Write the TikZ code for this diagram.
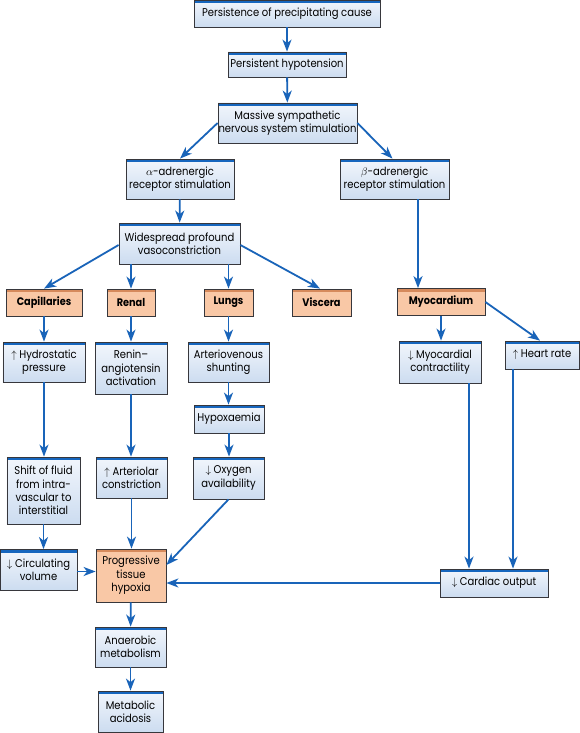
\documentclass[tikz,border=0pt]{standalone}
\usepackage{fontspec}
\setmainfont{Poppins}[FakeStretch=0.89]
\usetikzlibrary{arrows.meta,calc}
\definecolor{lineblue}{RGB}{25,100,185}
\definecolor{barblue}{RGB}{22,102,190}
\definecolor{boxtop}{RGB}{242,246,252}
\definecolor{boxbot}{RGB}{204,220,240}
\definecolor{orfill}{RGB}{249,200,166}
\definecolor{orbar}{RGB}{214,138,92}
\definecolor{bordergray}{RGB}{55,55,60}
\tikzset{
  base/.style 2 args={draw=bordergray, line width=0.8bp, minimum width=#1bp, minimum height=#2bp,
    inner sep=0.5bp, align=center, font=\fontsize{11.3}{13.5}\selectfont},
  bx/.style 2 args={base={#1}{#2}, top color=boxtop, bottom color=boxbot,
    path picture={\fill[barblue] (path picture bounding box.north west) rectangle ([yshift=-3.2bp]path picture bounding box.north east);}},
  obar/.style={fill=orfill,
    path picture={\fill[orbar] (path picture bounding box.north west) rectangle ([yshift=-3bp]path picture bounding box.north east);}},
  ox/.style 2 args={base={#1}{#2}, obar, font=\fontsize{11}{13}\selectfont\bfseries},
  arr/.style={draw=lineblue, line width=1.8bp, -{Stealth[length=12bp,width=9bp,inset=3.5bp]}}
}
\begin{document}
\begin{tikzpicture}[x=1bp,y=-1bp]
\useasboundingbox (0,0) rectangle (580,733);
\fill[white] (0,0) rectangle (580,733);
% nodes
\node[bx={186}{27}] (cause) at (287,13.5) {Persistence of precipitating cause};
\node[bx={118}{25}] (hypo) at (287,64.5) {Persistent hypotension};
\node[bx={139}{40}] (symp) at (287.5,123) {Massive sympathetic\\nervous system stimulation};
\node[bx={108}{40}] (alpha) at (180,179) {$\alpha$-adrenergic\\receptor stimulation};
\node[bx={109}{40}] (beta) at (394.5,179) {$\beta$-adrenergic\\receptor stimulation};
\node[bx={121}{41}] (wide) at (179.5,243.5) {Widespread profound\\vasoconstriction};
\node[ox={76}{27}] (cap) at (44,302.5) {Capillaries};
\node[ox={48}{27}] (renal) at (131,302.5) {Renal};
\node[ox={49}{27}] (lungs) at (228.5,302.5) {Lungs};
\node[ox={59}{27}] (visc) at (321.5,302.5) {Viscera};
\node[ox={88}{27}] (myo) at (441,302) {Myocardium};
\node[bx={82}{40}] (hydro) at (44,362) {$\uparrow$ Hydrostatic\\pressure};
\node[bx={72}{52}] (renin) at (131,368) {Renin--\\angiotensin\\activation};
\node[bx={81}{40}] (arterio) at (228.5,362) {Arteriovenous\\shunting};
\node[bx={70}{28}] (hypox) at (229,419) {Hypoxaemia};
\node[bx={71}{42}] (oxy) at (228.5,478) {$\downarrow$ Oxygen\\availability};
\node[bx={71}{41}] (artc) at (131.5,477.5) {$\uparrow$ Arteriolar\\constriction};
\node[bx={73}{67}] (shift) at (43.5,490.5) {Shift of fluid\\from intra-\\vascular to\\interstitial};
\node[bx={77}{41}] (circ) at (38.5,570) {$\downarrow$ Circulating\\volume};
\node[base={70}{53}, obar] (prog) at (131,575.5) {Progressive\\tissue\\hypoxia};
\node[bx={71}{40}] (anaer) at (130.5,647) {Anaerobic\\metabolism};
\node[bx={65}{41}] (metab) at (130.5,711.5) {Metabolic\\acidosis};
\node[bx={82}{42}] (contr) at (440,362) {$\downarrow$ Myocardial\\contractility};
\node[bx={74}{28}] (heart) at (542,355) {$\uparrow$ Heart rate};
\node[bx={108}{28}] (card) at (494,583) {$\downarrow$ Cardiac output};
% connectors
\draw[arr] (cause) -- (hypo);
\draw[arr] (hypo) -- (symp);
\draw[arr] (symp.west) -- (alpha.north);
\draw[arr] (symp.east) -- ([xshift=-2bp]beta.north);
\draw[arr] (alpha) -- (wide);
\draw[arr] ([xshift=23.5bp]beta.south) -- ([xshift=23.5bp]beta.south |- myo.north);
\draw[arr] ([yshift=-1.5bp]wide.west) -- (cap.north);
\draw[arr] (renal.north |- wide.south) -- (renal.north);
\draw[arr] (lungs.north |- wide.south) -- (lungs.north);
\draw[arr] ([yshift=-1.5bp]wide.east) -- ([xshift=-1.5bp]visc.north);
\draw[arr] (myo.east) -- ([xshift=-2bp]heart.north);
\draw[arr] (myo) -- (myo |- contr.north);
\draw[arr] (cap) -- (hydro);
\draw[arr] (hydro) -- (hydro.south |- shift.north);
\draw[arr] (shift.south) -- (shift.south |- circ.north);
\draw[arr] (renal) -- (renin);
\draw[arr] (renin) -- (renin.south |- artc.north);
\draw[arr] (artc.south) -- (artc.south |- prog.north);
\draw[arr] (lungs) -- (arterio);
\draw[arr] (arterio) -- (arterio.south |- hypox.north);
\draw[arr] (hypox) -- (hypox.south |- oxy.north);
\draw[arr] (oxy.south) -- ([yshift=10.5bp]prog.east);
\draw[arr] ([yshift=-1.5bp]circ.east) -- ([yshift=-1.5bp]circ.east -| prog.west);
\draw[arr] (card.west) -- (card.west -| prog.east);
\draw[arr] ([xshift=29bp]contr.south) -- ([xshift=29bp]contr.south |- card.north);
\draw[arr] ([xshift=-29bp]heart.south) -- ([xshift=-29bp]heart.south |- card.north);
\draw[arr] (prog) -- (anaer);
\draw[arr] (anaer) -- (metab);
\end{tikzpicture}
\end{document}
